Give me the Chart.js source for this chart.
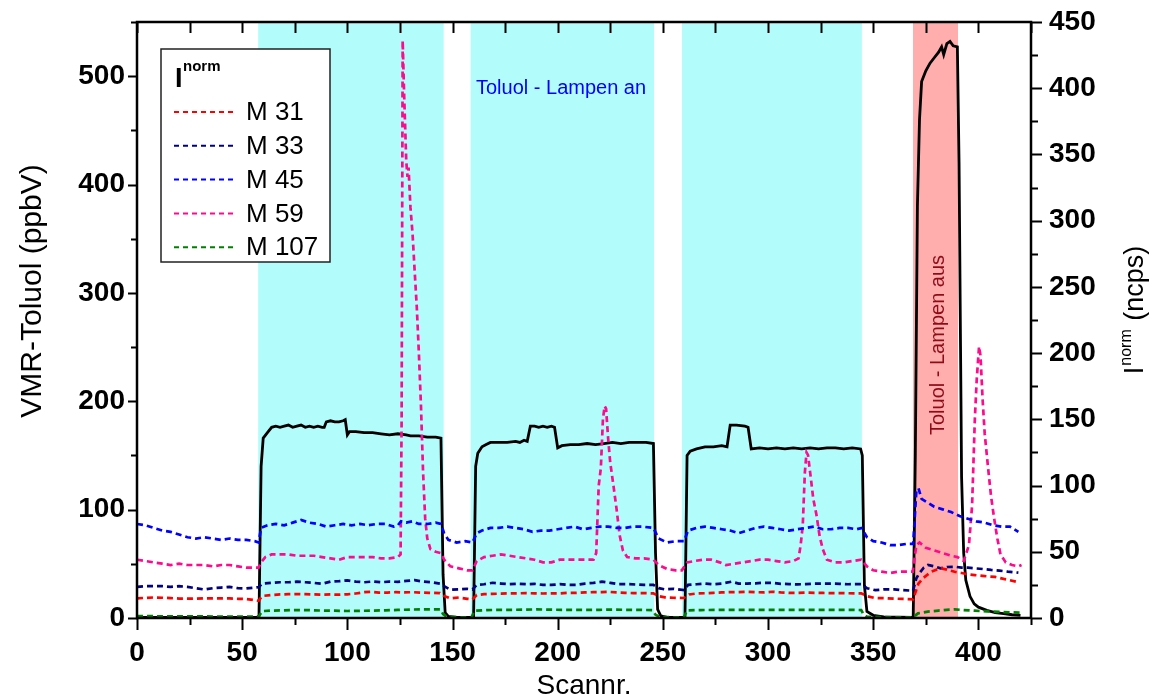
<!DOCTYPE html>
<html>
<head>
<meta charset="utf-8">
<script src="https://cdn.jsdelivr.net/npm/chart.js@4.4.1/dist/chart.umd.min.js"></script>
<style>
  html, body { margin: 0; padding: 0; background: #ffffff; }
  #wrap { width: 1152px; height: 700px; }
</style>
</head>
<body>
<div id="wrap"><canvas id="c" width="1152" height="700"></canvas></div>
<script>
// Scan ranges of the measurement phases
const lampOnPhases = [[57.6, 145.8], [158.6, 245.8], [259.1, 344.6]];
const lampOffPhases = [[368.9, 390.3]];

// VMR toluene (ppbV) versus scan number
const vmrToluol = [
  [0,0.5],[20,0.5],[40,0.5],[57,0.5],[58,2],[59,140],[60,166],[62,171],[64,176],[66,177],[68,176],[70,177],
  [72,178],[74,176],[76,177],[78,178],[80,176],[82,177],[84,176],[86,177],[88,176],[89,176],[90,181],[92,182],
  [94,181],[96,181],[98,182],[99,183],[100,169],[101,172],[104,172],[108,171],[112,171],[116,170],[120,169],
  [124,170],[128,169],[130,168],[134,168],[138,167],[142,167],[144.5,166],[145.5,40],[146.5,5],[148,1.5],
  [152,0.5],[160,0.5],[161,140],[162,152],[164,158],[166,160],[168,162],[172,162],[176,162],[180,163],[182,162],
  [184,164],[185.5,163],[187,177],[189,177],[191,176],[193,177],[195,176],[197,177],[198.5,176],[200,157],
  [202,159],[206,160],[210,160],[214,161],[218,160],[222,161],[226,162],[230,161],[234,162],[238,162],[242,162],
  [245.5,161],[246.5,60],[247.5,8],[249,2],[252,0.5],[260.5,0.5],[261.5,150],[263,154],[266,156],[270,158],
  [274,158],[278,159],[280.5,158],[282,178],[285,178],[289,177],[290.5,176],[292,156],[296,157],[300,156],
  [304,157],[308,156],[312,157],[316,156],[320,157],[324,156],[328,157],[332,157],[336,156],[340,157],[344,156],
  [344.8,150],[345.8,30],[347,6],[350,2.5],[355,1],[369,0.5],[370,150],[371,380],[372,460],[373,495],[375,505],
  [377,512],[379,517],[381,522],[382.5,527],[383.5,520],[385,530],[386.5,532],[388,528],[390,527],[390.8,420],
  [391.5,250],[392,130],[393,60],[394,35],[396,20],[398,13],[400,10],[404,7],[408,5],[412,4],[416,3],[420,2.5]
];

// Normalised count rates (ncps) of the monitored masses
const m31 = [
  [0,14.8],[4,15.2],[8,15.5],[12,15.3],[16,15],[20,14.7],[24,14.6],[28,14.6],[32,14.8],[36,14.8],[40,14.8],
  [44,14.8],[48,14.5],[52,14.3],[56,13.5],[57.8,13],[59.5,16.6],[64,17.4],[68,17.8],[72,18],[76,18.1],[80,18],
  [84,17.8],[88,17.6],[92,17.8],[96,17.6],[100,17.9],[104,18.5],[108,19.5],[111,19.8],[115,19.2],[119,19.2],
  [123,19.5],[127,19.3],[131,19.5],[135,19.2],[139,19],[144,18.8],[146,16.6],[149,14.8],[153,15.5],[157,14.5],
  [159.5,14.1],[161.5,17.3],[165,18],[169,18.2],[173,18.4],[177,18.6],[181,18.6],[185,18.8],[189,18.6],
  [193,18.5],[197,18.6],[201,18.6],[205,19],[209,19],[213,19.3],[217,19.5],[221,19.6],[224,19.8],[228,19.3],
  [232,19],[236,18.8],[240,18.8],[245.5,18.6],[248,16.5],[251,15.6],[255,15.3],[260,15.1],[262.5,17.8],
  [266,18.5],[270,18.7],[274,19],[278,19.3],[282,19.5],[286,19.6],[290,19.8],[294,19.5],[298,19.3],[302,19.8],
  [306,19.3],[310,19],[314,19],[318,19.2],[322,19],[326,18.9],[330,18.8],[334,18.8],[338,18.7],[342,18.6],
  [344.3,18.6],[347,16.5],[350.6,15.1],[355,15],[360,14.6],[365,14.4],[368.9,14.1],[370,19],[371.5,26],
  [374,30.5],[377.6,34.9],[380,36.5],[382.4,37.5],[385,36.5],[388.7,34.9],[392,34],[395,33],[398.3,32.4],
  [402,31.8],[405,31.3],[408,31],[412,29.5],[415,28.5],[418,27.4]
];
const m33 = [
  [0,23.5],[4,24],[8,24],[12,24],[16,23.5],[20,24],[24,23.5],[28,22.5],[32,21.5],[36,22.5],[40,23],[44,23.5],
  [48,22.5],[52,22.3],[56,23],[57.8,23.3],[59.5,26],[64,26.5],[68,27],[72,27],[76,27.4],[80,27],[84,26.5],
  [88,25.8],[92,27.5],[96,27.8],[100,28.4],[104,27.5],[108,27],[112,27.5],[116,27],[120,27.5],[124,27.3],
  [128,28],[132,28.6],[136,27.5],[140,27],[144,26],[146,24],[149,21.3],[153,21.6],[157,22],[159.5,21.5],
  [161.5,25],[165,25.5],[169,26.6],[173,26],[177,25.5],[181,25.8],[185,25.5],[189,25.8],[193,25],[197,25],
  [201,25.5],[205,25],[209,25],[213,26],[217,26.5],[221,27.4],[225,26.5],[229,25.6],[233,25.6],[237,25.3],
  [241,25],[245.5,25],[248,22.5],[251,21.6],[255,22],[260,21],[262,25],[266,25.5],[270,26],[274,25.5],[278,26],
  [282.5,27.4],[286,26],[290,26],[294,26.2],[298,26.6],[302,26.5],[306,25.8],[310,25.6],[314,25.4],[318,25.6],
  [322,26],[326,26],[330,26],[334,25.8],[338,25.5],[342,25.6],[344.3,25.6],[347,22.5],[351,21],[355,21.6],
  [360,21.6],[364,21],[368.9,20.6],[370.5,30],[372,34],[374,38],[376,40],[379,39],[382,37.5],[385,38.5],
  [388.7,38.7],[392,38],[395,38],[398,37.5],[402,37],[406,36.3],[410,35.8],[414,35],[419,34.2]
];
const m45 = [
  [0,71],[4,70],[8,68],[12,66],[16,65],[20,63],[24,61],[28,60],[32,61],[36,60],[40,59],[44,60],[48,59],[52,59],
  [56,58],[57.8,57],[59,68],[62,70],[66,71],[70,70],[74,72],[78,74],[82,72],[86,71],[90,69],[94,70],[98,71],
  [102,70],[106,71],[110,70],[114,71],[118,71],[122,69],[124,70],[125.5,73],[128,72],[131,73],[134,71],[138,71],
  [142,72],[144.5,71],[146,64],[148,59],[152,57],[156,58],[159.5,57],[161.5,64],[164,66],[168,68],[172,68],
  [176,69],[180,68],[184,67],[188,65],[192,66],[196,66],[200,67],[204,68],[208,69],[212,67],[216,68],[220,69],
  [224,69],[228,68],[232,68],[236,69],[240,69],[245.5,68],[248,60],[252,57],[256,58],[260,58],[262,66],[266,68],
  [270,69],[274,68],[278,67],[282,66],[286,64],[290,66],[294,68],[298,69],[302,68],[306,67],[310,66],[314,67],
  [318,68],[322,69],[326,67],[330,67],[334,68],[338,68],[342,67],[344.5,68],[347,61],[350,58],[354,57],[358,55],
  [362,55],[366,56],[369,56],[370.5,96],[371.5,98],[373,90],[376,87],[379,84],[383,82],[387,80],[391,77],[395,75],
  [399,73],[403,72],[407,70],[411,69],[415,69],[419,65]
];
const m59 = [
  [0,44],[4,43],[8,42],[12,41],[16,40],[20,41],[24,40],[28,40],[32,40],[36,39],[40,40],[44,40],[48,39],[52,38],
  [56,38],[57.8,38],[59,42],[61,46],[64,48],[68,48],[72,48],[76,47],[80,47],[84,47],[88,46],[92,45],[96,44],
  [100,46],[104,46],[108,46],[112,46],[116,45],[120,45],[124,46],[125.3,48],[125.8,150],[126.3,436],[127,395],
  [128,345],[128.6,333],[129.1,340],[130,310],[131,290],[132,262],[133,235],[134,200],[135,160],[136,110],
  [137,75],[138,60],[139.5,52],[142,50],[144.5,49],[146,44],[149,39],[153,37.5],[157,36],[159.5,36],[161.5,43],
  [165,46],[169,47],[173,48],[177,47],[181,46],[185,45],[189,44],[193,42],[197,42],[201,44],[205,44],[209,44],
  [213,44],[217,44],[218.3,49],[219.5,100],[220.5,113],[221.5,150],[222.3,160],[223,158],[224,135],[225,117],
  [226.5,100],[228,82],[229.5,62],[231,51],[233,46],[237,45],[241,45],[245.5,44],[248,40],[252,37],[256,36],
  [259,36],[261.5,42],[265,43],[269,44],[273,44],[277,42],[280,40],[284,41],[288,42],[292,43],[296,44],[300,44],
  [304,43],[308,42],[312,43],[314.5,45],[315.5,55],[316.5,70],[317.5,110],[318.3,125],[319,123],[320,110],
  [321.5,90],[323,78],[324.5,62],[326,52],[328,44],[332,42],[336,42],[340,43],[344.3,44],[347,39],[350,36],
  [354,35],[358,34],[362,35],[366,35],[368.8,35],[370.5,55],[372,57],[375,53],[379,51],[383,49],[387,47],
  [390,46],[393,43],[395.5,55],[397,85],[398.3,150],[399.2,180],[400.3,205],[401,198],[402,165],[403,139],
  [404.5,115],[406,92],[407.5,75],[409,60],[410.5,48],[413,42],[416,40],[419,39],[420.5,40]
];
const m107 = [
  [0,1.5],[10,1.3],[20,1.2],[30,1.2],[40,1.1],[50,1],[57.8,1],[59.5,5.2],[64,5.6],[70,5.8],[76,6],[82,5.9],
  [88,5.6],[94,5.5],[100,5.3],[106,5.4],[112,5.6],[118,5.8],[124,6.1],[130,6.4],[136,6.5],[140,6.5],[144.3,6.5],
  [145.5,3],[147,1.2],[152,0.6],[159,0.5],[160.5,5.5],[166,6],[172,6.1],[178,6.2],[184,6.3],[190,6.5],[196,6.3],
  [202,6.2],[208,6.2],[214,6.1],[220,6.2],[226,6.3],[232,6.2],[238,6.1],[245,6],[246.5,2.5],[248,1.2],[252,0.6],
  [260,0.5],[261.5,5.8],[268,6],[276,6.1],[284,6.2],[292,6.2],[300,6.1],[308,6.1],[316,6.2],[324,6.1],[332,6.2],
  [340,6.2],[344.3,6],[345.5,2.5],[347,1],[355,0.6],[362,0.5],[368.9,0.5],[371.3,3.5],[376,4.8],[381,5.6],
  [385,6.2],[388.7,6.5],[393,6],[398.3,5.5],[404,5],[410,4.6],[415,4.3],[420.5,4]
];

// Axis limits and labels
const scanRange = [0, 425];
const vmrRange = [0, 550];
const ncpsRange = [0, 450];
const xTitle = 'Scannr.';
const yTitle = 'VMR-Toluol (ppbV)';
const y2TitleMain = 'I';
const y2TitleSup = 'norm';
const y2TitleTail = ' (ncps)';
const legendTitle = 'I';
const legendTitleSup = 'norm';
const lampOnText = 'Toluol - Lampen an';
const lampOffText = 'Toluol - Lampen aus';

const FONT = 'Arial, "Liberation Sans", Helvetica, sans-serif';
const toXY = arr => arr.map(p => ({ x: p[0], y: p[1] }));
const isMultiple = (v, step) => Math.abs(v / step - Math.round(v / step)) < 1e-6;

const massSeries = [
  { label: 'M 31', data: m31, color: '#ff0000' },
  { label: 'M 33', data: m33, color: '#000080' },
  { label: 'M 45', data: m45, color: '#0000ff' },
  { label: 'M 59', data: m59, color: '#ff0a8c' },
  { label: 'M 107', data: m107, color: '#008000' }
];

const datasets = massSeries.map(s => ({
  label: s.label,
  data: toXY(s.data),
  yAxisID: 'y2',
  borderColor: s.color,
  borderWidth: 2.7,
  borderDash: [6, 4],
  pointRadius: 0,
  tension: 0,
  fill: false,
  order: 1,
  showInBox: true
}));
datasets.push({
  label: 'VMR-Toluol',
  data: toXY(vmrToluol),
  yAxisID: 'y',
  borderColor: '#000000',
  borderWidth: 2.8,
  pointRadius: 0,
  tension: 0,
  fill: false,
  order: 2,
  showInBox: false
});

// Shaded phases behind the curves
const phaseBands = {
  id: 'phaseBands',
  beforeDatasetsDraw(chart) {
    const { ctx, chartArea: a, scales: { x } } = chart;
    ctx.save();
    const band = (r, col) => {
      const x0 = x.getPixelForValue(r[0]);
      const x1 = x.getPixelForValue(r[1]);
      ctx.fillStyle = col;
      ctx.fillRect(x0, a.top, x1 - x0, a.bottom - a.top);
    };
    lampOnPhases.forEach(r => band(r, '#b3fcfc'));
    lampOffPhases.forEach(r => band(r, '#ffadad'));
    ctx.restore();
  }
};

// Frame, tick marks, axis titles, annotations and the legend box
const decorations = {
  id: 'decorations',
  afterDraw(chart) {
    const { ctx, chartArea: a, scales: { x, y, y2 } } = chart;
    ctx.save();
    ctx.strokeStyle = '#000';
    ctx.fillStyle = '#000';

    // ticks
    ctx.lineWidth = 2;
    ctx.beginPath();
    for (let v = scanRange[0]; v <= scanRange[1] + 0.01; v += 25) {
      const px = Math.round(x.getPixelForValue(v)) + 0.5;
      const major = isMultiple(v, 50);
      ctx.moveTo(px, a.bottom); ctx.lineTo(px, a.bottom + (major ? 12 : 7));
      ctx.moveTo(px, a.top); ctx.lineTo(px, a.top + 11);
    }
    for (let v = vmrRange[0]; v <= vmrRange[1] + 0.01; v += 50) {
      const py = Math.round(y.getPixelForValue(v)) + 0.5;
      ctx.moveTo(a.left, py); ctx.lineTo(a.left - (isMultiple(v, 100) ? 9 : 6), py);
    }
    for (let v = ncpsRange[0]; v <= ncpsRange[1] + 0.01; v += 25) {
      const py = Math.round(y2.getPixelForValue(v)) + 0.5;
      ctx.moveTo(a.right, py); ctx.lineTo(a.right + (isMultiple(v, 50) ? 11 : 7), py);
    }
    ctx.stroke();

    // frame
    ctx.lineWidth = 2.5;
    ctx.strokeRect(a.left, a.top, a.right - a.left, a.bottom - a.top);

    // axis titles
    ctx.font = '28px ' + FONT;
    ctx.textAlign = 'center';
    ctx.textBaseline = 'middle';
    ctx.fillText(xTitle, 584, 686);

    ctx.save();
    ctx.translate(33, 291);
    ctx.rotate(-Math.PI / 2);
    ctx.font = '30px ' + FONT;
    ctx.fillText(yTitle, 0, 0);
    ctx.restore();

    ctx.save();
    ctx.translate(1136, 310);
    ctx.rotate(-Math.PI / 2);
    ctx.textAlign = 'left';
    ctx.textBaseline = 'middle';
    ctx.font = '27px ' + FONT;
    const wI = ctx.measureText(y2TitleMain).width;
    const wTail = ctx.measureText(y2TitleTail).width;
    ctx.font = '16px ' + FONT;
    const wSup = ctx.measureText(y2TitleSup).width;
    let cx = -(wI + wSup + 2 + wTail) / 2;
    ctx.font = '27px ' + FONT;
    ctx.fillText(y2TitleMain, cx, 0);
    cx += wI + 1;
    ctx.font = '16px ' + FONT;
    ctx.fillText(y2TitleSup, cx, -9);
    cx += wSup + 1;
    ctx.font = '27px ' + FONT;
    ctx.fillText(y2TitleTail, cx, 0);
    ctx.restore();

    // phase annotations
    ctx.font = '20px ' + FONT;
    ctx.fillStyle = '#0000ff';
    ctx.textAlign = 'left';
    ctx.fillText(lampOnText, 476, 88);
    ctx.save();
    ctx.translate(938, 345);
    ctx.rotate(-Math.PI / 2);
    ctx.textAlign = 'center';
    ctx.fillStyle = '#8e0c18';
    ctx.fillText(lampOffText, 0, 0);
    ctx.restore();

    // legend box
    const bx = 161, by = 49, bw = 169, bh = 213;
    ctx.fillStyle = '#ffffff';
    ctx.fillRect(bx, by, bw, bh);
    ctx.lineWidth = 1.5;
    ctx.strokeStyle = '#222';
    ctx.strokeRect(bx, by, bw, bh);
    ctx.fillStyle = '#000';
    ctx.textAlign = 'left';
    ctx.textBaseline = 'alphabetic';
    ctx.font = 'bold 27px ' + FONT;
    ctx.fillText(legendTitle, 175, 87);
    ctx.font = 'bold 15px ' + FONT;
    ctx.fillText(legendTitleSup, 183, 71);
    ctx.textBaseline = 'middle';
    const rows = chart.data.datasets.filter(d => d.showInBox);
    rows.forEach((d, i) => {
      const ry = 112 + i * 33.8;
      ctx.save();
      ctx.strokeStyle = d.borderColor;
      ctx.lineWidth = 2;
      ctx.setLineDash([5, 4]);
      ctx.beginPath();
      ctx.moveTo(174, ry); ctx.lineTo(236, ry);
      ctx.stroke();
      ctx.restore();
      ctx.font = '26px ' + FONT;
      ctx.fillStyle = '#000';
      ctx.fillText(d.label, 246, ry + 1);
    });
    ctx.restore();
  }
};

const tickFont = { family: FONT, size: 28, weight: 'bold' };
const zeroPad = s => { s.paddingTop = 0; s.paddingBottom = 0; s.paddingLeft = 0; s.paddingRight = 0; };

new Chart(document.getElementById('c'), {
  type: 'line',
  data: { datasets },
  options: {
    responsive: false,
    animation: false,
    devicePixelRatio: 1,
    layout: { padding: { top: 22, left: 0, right: 0, bottom: 0 } },
    plugins: { legend: { display: false }, tooltip: { enabled: false } },
    scales: {
      x: {
        type: 'linear',
        position: 'bottom',
        min: scanRange[0], max: scanRange[1],
        grid: { display: false, drawTicks: false },
        border: { display: false },
        ticks: { stepSize: 50, includeBounds: false, font: tickFont, color: '#000', padding: 18, maxRotation: 0, autoSkip: false },
        afterBuildTicks: s => { s.ticks = s.ticks.filter(t => isMultiple(t.value, 50)); },
        afterFit: s => { s.height = 82; zeroPad(s); }
      },
      y: {
        type: 'linear',
        position: 'left',
        min: vmrRange[0], max: vmrRange[1],
        grid: { display: false, drawTicks: false },
        border: { display: false },
        ticks: { stepSize: 100, includeBounds: false, font: tickFont, color: '#000', padding: 12, autoSkip: false },
        afterBuildTicks: s => { s.ticks = s.ticks.filter(t => isMultiple(t.value, 100)); },
        afterFit: s => { s.width = 137; zeroPad(s); }
      },
      y2: {
        type: 'linear',
        position: 'right',
        min: ncpsRange[0], max: ncpsRange[1],
        grid: { display: false, drawTicks: false },
        border: { display: false },
        ticks: { stepSize: 50, includeBounds: false, font: tickFont, color: '#000', padding: 18, autoSkip: false },
        afterBuildTicks: s => { s.ticks = s.ticks.filter(t => isMultiple(t.value, 50)); },
        afterFit: s => { s.width = 121; zeroPad(s); }
      }
    }
  },
  plugins: [phaseBands, decorations]
});
</script>
</body>
</html>
